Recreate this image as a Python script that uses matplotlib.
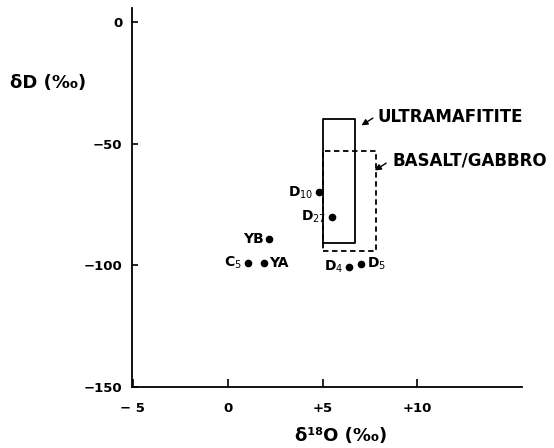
import matplotlib.pyplot as plt
import numpy as np

# sample points (d18O, dD)
names = ['D10', 'D27', 'YB', 'C5', 'YA', 'D4', 'D5']
d18O = [4.8, 5.5, 2.2, 1.05, 1.9, 6.4, 7.05]
dD = [-70, -80, -89, -99, -99, -100.5, -99.5]
sides = ['left', 'left', 'left', 'left', 'right', 'left', 'right']

# fields: (x0, x1, y0, y1)
ultra_box = [5.0, 6.7, -91, -40]
basalt_box = [5.0, 7.8, -94, -53]

xticks = [-5, 0, 5, 10]
xtick_labels = ['\u2212 5', '0', '+5', '+10']
yticks = [-150, -100, -50, 0]
ytick_labels = ['\u2212150', '\u2212100', '\u221250', '0']

plt.rcParams['font.family'] = ['DejaVu Sans']

fig = plt.figure(figsize=(5.54, 4.48), dpi=100)
ax = fig.add_axes([0.238, 0.136, 0.704, 0.846])

ax.plot(d18O, dD, 'o', color='black', markersize=4.5)

for n, x, y, s in zip(names, d18O, dD, sides):
    if n[1:].isdigit():
        lab = n[0] + '$_{' + n[1:] + '}$'
    else:
        lab = n
    if s == 'left':
        ax.text(x - 0.3, y, lab, ha='right', va='center', fontsize=10,
                fontweight='bold')
    else:
        ax.text(x + 0.3, y, lab, ha='left', va='center', fontsize=10,
                fontweight='bold')

x0, x1, y0, y1 = ultra_box
ax.plot([x0, x1, x1, x0, x0], [y0, y0, y1, y1, y0], color='black', lw=1.3)
x0, x1, y0, y1 = basalt_box
ax.plot([x0, x1, x1, x0, x0], [y0, y0, y1, y1, y0], color='black', lw=1.3,
        ls=(0, (3, 2)))

ax.text(7.9, -39, 'ULTRAMAFITITE', ha='left', va='center', fontsize=12,
        fontweight='bold')
ax.text(8.7, -57, 'BASALT/GABBRO', ha='left', va='center', fontsize=12,
        fontweight='bold')
ax.annotate('', xy=(7.05, -42.5), xytext=(7.65, -39.5),
            arrowprops=dict(arrowstyle='-|>', color='black', lw=1,
                            shrinkA=0, shrinkB=0, mutation_scale=9))
ax.annotate('', xy=(7.75, -61), xytext=(8.35, -58),
            arrowprops=dict(arrowstyle='-|>', color='black', lw=1,
                            shrinkA=0, shrinkB=0, mutation_scale=9))

ax.set_xlim(-5.05, 15.5)
ax.set_ylim(-150, 5.7)
ax.set_xticks(xticks)
ax.set_xticklabels(xtick_labels, fontweight='bold', fontsize=9.5)
ax.set_yticks(yticks)
ax.set_yticklabels(ytick_labels, fontweight='bold', fontsize=9.5)
ax.spines['top'].set_visible(False)
ax.spines['right'].set_visible(False)
ax.spines['left'].set_linewidth(1.3)
ax.spines['bottom'].set_linewidth(1.3)
ax.tick_params(axis='x', direction='in', length=6, width=1.2, pad=11)
ax.tick_params(axis='y', direction='in', length=4, width=1.2, pad=7)

fig.text(0.018, 0.815, '\u03b4D (\u2030)', fontsize=13, fontweight='bold',
         ha='left', va='center')
fig.text(0.616, 0.027, '\u03b4\u00b9\u2078O (\u2030)', fontsize=13,
         fontweight='bold', ha='center', va='center')

fig.savefig('out.png', dpi=100)
